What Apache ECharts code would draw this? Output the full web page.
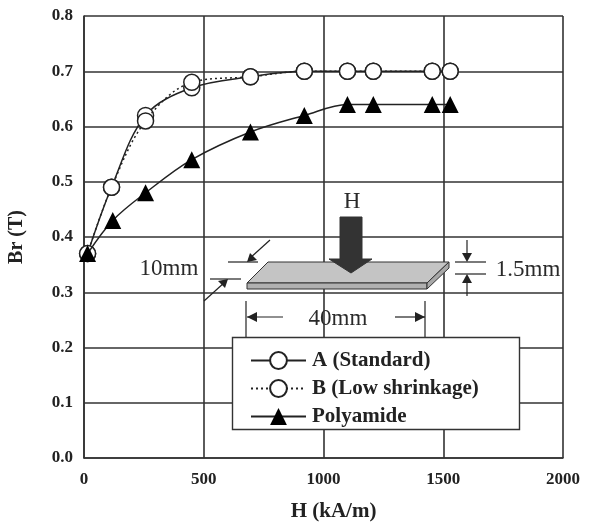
<!DOCTYPE html>
<html><head><meta charset="utf-8">
<style>html,body{margin:0;padding:0;background:#fff}#c{width:589px;height:524px}</style>
<script src="https://cdn.jsdelivr.net/npm/echarts@6/dist/echarts.min.js"></script></head>
<body><div id="c"></div>
<script>
const seriesNames = ['A (Standard)', 'B (Low shrinkage)', 'Polyamide'];
const hA = [15, 115, 257, 450, 695, 920, 1100, 1208, 1454, 1529];
const brA = [0.37, 0.49, 0.62, 0.67, 0.69, 0.70, 0.70, 0.70, 0.70, 0.70];
const brB = [0.37, 0.49, 0.61, 0.68, 0.69, 0.70, 0.70, 0.70, 0.70, 0.70];
const hP = [15, 120, 257, 450, 695, 920, 1100, 1208, 1454, 1529];
const brP = [0.37, 0.43, 0.48, 0.54, 0.59, 0.62, 0.64, 0.64, 0.64, 0.64];

const zip = (x, y) => x.map((v, i) => [v, y[i]]);
const SERIF = '"Liberation Serif","Times New Roman",serif';
const INK = '#333';
const poly = (points, fill, stroke, z) => ({type:'polygon', z:z||3, shape:{points},
  style:{fill:fill||'none', stroke:stroke||null, lineWidth:1}});
const seg = (x1,y1,x2,y2,w) => ({type:'line', z:3, shape:{x1,y1,x2,y2}, style:{stroke:'#222', lineWidth:w||1.2}});
const txt = (x,y,text,size) => ({type:'text', z:4, x, y, style:{text, font:(size||23)+'px '+SERIF, fill:'#2a2a2a',
  textAlign:'center', textVerticalAlign:'middle'}});

const lineStyle = (type) => ({color:'#222', width:1.5, type});
const mk = (name, data, symbol, size, fill, line, z) => ({
  name, type:'line', data, smooth:0.35, symbol, symbolSize:size, z, showSymbol:true,
  itemStyle:{color:fill, borderColor:'#222', borderWidth: symbol==='circle'?1.5:0, opacity:1},
  lineStyle:line, emphasis:{disabled:true}, animation:false
});

const chart = echarts.init(document.getElementById('c'), null, {renderer:'canvas'});
chart.setOption({
  animation:false,
  backgroundColor:'#fff',
  grid:{left:84, right:26, top:16, bottom:66, outerBoundsMode:'none'},
  xAxis:{type:'value', min:0, max:2000, interval:500,
    name:'H (kA/m)', nameLocation:'middle', nameGap:43,
    nameTextStyle:{fontFamily:SERIF, fontWeight:'bold', fontSize:21, color:'#222', padding:[0,0,0,20]},
    axisLine:{show:true, onZero:false, lineStyle:{color:INK, width:1.6}},
    axisTick:{show:false},
    axisLabel:{fontFamily:SERIF, fontWeight:'bold', fontSize:17, color:'#222', margin:13, showMinLabel:true, showMaxLabel:true,
      formatter:v=>String(v)},
    splitLine:{show:true, lineStyle:{color:INK, width:1.6}}},
  yAxis:{type:'value', min:0, max:0.8, interval:0.1,
    name:'Br (T)', nameLocation:'middle', nameGap:57, nameRotate:90,
    nameTextStyle:{fontFamily:SERIF, fontWeight:'bold', fontSize:20, color:'#222'},
    axisLine:{show:true, lineStyle:{color:INK, width:1.6}},
    axisTick:{show:false},
    axisLabel:{fontFamily:SERIF, fontWeight:'bold', fontSize:17, color:'#222', margin:11,
      formatter:v=>v.toFixed(1), showMinLabel:true, showMaxLabel:true},
    splitLine:{show:true, lineStyle:{color:INK, width:1.6}}},
  legend:{orient:'vertical', left:250, top:350, padding:0, itemGap:7, itemWidth:55, itemHeight:21, z:20,
    data:seriesNames, selectedMode:false,
    textStyle:{fontFamily:SERIF, fontWeight:'bold', fontSize:21, color:'#222', padding:[0,0,0,1]}},
  series:[
    mk(seriesNames[0], zip(hA,brA), 'circle', 16, '#fff', lineStyle('solid'), 3),
    mk(seriesNames[1], zip(hA,brB), 'circle', 16, '#fff', lineStyle([2,3]), 4),
    mk(seriesNames[2], zip(hP,brP), 'triangle', 17, '#000', lineStyle('solid'), 5)
  ],
  graphic:{elements:[
    poly([[247,283],[268,262],[449,262],[427,283]], '#c4c4c4', '#333'),
    poly([[247,283],[427,283],[427,289],[247,289]], '#b0b0b0', '#333'),
    poly([[427,283],[449,262],[449,268],[427,289]], '#a8a8a8', '#333'),
    poly([[340,217],[362,217],[362,259],[372,259],[351,273],[329,259],[340,259]], '#333', '#333'),
    txt(352,202,'H'),
    txt(169,269,'10mm'),
    seg(228,262,258,262), seg(210,279,241,279),
    seg(270,240,249,259), poly([[247,262],[257,260],[250,253]], '#222'),
    seg(204,301,225,282), poly([[228,279],[218,281],[225,288]], '#222'),
    txt(528,270,'1.5mm'),
    seg(455,262,486,262), seg(455,274,486,274),
    seg(467,240,467,256), poly([[462,253],[472,253],[467,262]], '#222'),
    seg(467,280,467,296), poly([[462,283],[472,283],[467,274]], '#222'),
    txt(338,319,'40mm'),
    seg(246,301,246,340), seg(425,301,425,340),
    seg(247,317,283,317), poly([[247,317],[257,312],[257,322]], '#222'),
    seg(395,317,425,317), poly([[425,317],[415,312],[415,322]], '#222'),
    {type:'rect', z:10, shape:{x:232.5,y:337.5,width:287,height:92}, style:{fill:'#fff', stroke:'#333', lineWidth:1.4}}
  ]}
});
</script></body></html>
